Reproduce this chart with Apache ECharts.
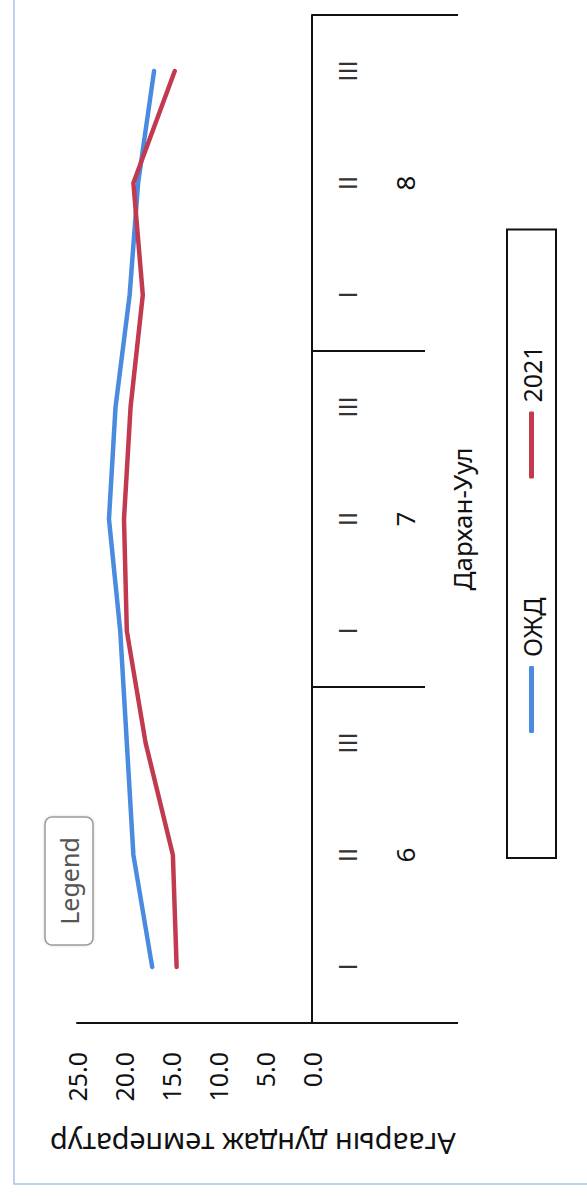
<!DOCTYPE html>
<html>
<head>
<meta charset="utf-8">
<script src="https://cdn.jsdelivr.net/npm/echarts@6/dist/echarts.min.js"></script>
<style>
  html, body { margin: 0; padding: 0; width: 587px; height: 1196px; overflow: hidden; background: #fff; }
  #chart {
    position: absolute; left: 0; top: 0;
    width: 1196px; height: 587px;
    transform-origin: 0 0;
    transform: translate(0, 1196px) rotate(-90deg);
  }
</style>
</head>
<body>
<div id="chart"></div>
<script>
// ---- data ----
const decades = ['I', 'II', 'III', 'I', 'II', 'III', 'I', 'II', 'III'];
const months = ['6', '7', '8'];
const station = ['Дархан-Уул'];
const seriesNames = ['ОЖД', '2021'];
const normalTemp = [17.0, 19.0, 19.7, 20.4, 21.6, 20.9, 19.4, 18.5, 16.8];
const temp2021 = [14.4, 14.8, 17.7, 19.7, 20.0, 19.3, 18.0, 19.0, 14.6];
const valueMin = 0, valueMax = 25, valueStep = 5;
const valueTitle = 'Агаарын дундаж температур';
const badgeText = 'Legend';

const FONT = 'Noto Sans';
const chart = echarts.init(document.getElementById('chart'), null, { renderer: 'svg' });

chart.setOption({
  backgroundColor: '#ffffff',
  animation: false,
  textStyle: { fontFamily: FONT },
  grid: { left: 173, right: 15, top: 77, bottom: 275, containLabel: false, outerBoundsMode: 'none' },
  legend: {
    data: seriesNames,
    left: 338, top: 507,
    orient: 'horizontal',
    padding: [12, 116, 12, 125],
    itemGap: 119,
    itemWidth: 67, itemHeight: 5,
    icon: 'roundRect',
    borderColor: '#111', borderWidth: 2, borderRadius: 0,
    textStyle: { fontFamily: FONT, fontSize: 25, color: '#111', padding: [0, 0, 0, 4] }
  },
  xAxis: [
    {
      type: 'category', data: decades, position: 'bottom', boundaryGap: true,
      axisLine: { show: true, onZero: false, lineStyle: { color: '#111', width: 2 } },
      axisTick: { show: false },
      axisLabel: { interval: 0, margin: 23, fontFamily: 'Liberation Sans', fontSize: 26, color: '#333' },
      splitLine: { show: false }
    },
    {
      type: 'category', data: months, position: 'bottom', boundaryGap: true,
      axisLine: { show: false, onZero: false },
      axisTick: { show: true, length: 113, lineStyle: { color: '#111', width: 2 } },
      axisLabel: { interval: 0, margin: 80, fontFamily: FONT, fontSize: 26, color: '#111' },
      splitLine: { show: false }
    },
    {
      type: 'category', data: station, position: 'bottom', boundaryGap: true,
      axisLine: { show: false, onZero: false },
      axisTick: { show: true, length: 146, lineStyle: { color: '#111', width: 2 } },
      axisLabel: { interval: 0, margin: 137, fontFamily: FONT, fontSize: 26, color: '#111' },
      splitLine: { show: false }
    }
  ],
  yAxis: {
    type: 'value', min: valueMin, max: valueMax, interval: valueStep,
    axisLine: { show: true, lineStyle: { color: '#111', width: 2 } },
    axisTick: { show: false },
    splitLine: { show: false },
    axisLabel: {
      margin: 29, fontFamily: FONT, fontSize: 25, color: '#111',
      formatter: v => v.toFixed(1)
    }
  },
  series: [
    {
      name: seriesNames[0], type: 'line', data: normalTemp,
      xAxisIndex: 0, yAxisIndex: 0, symbol: 'none', smooth: false,
      itemStyle: { color: '#4A8BE0' },
      lineStyle: { color: '#4A8BE0', width: 4.5, cap: 'round', join: 'round' }
    },
    {
      name: seriesNames[1], type: 'line', data: temp2021,
      xAxisIndex: 0, yAxisIndex: 0, symbol: 'none', smooth: false,
      itemStyle: { color: '#C23A50' },
      lineStyle: { color: '#C23A50', width: 4.5, cap: 'round', join: 'round' }
    }
  ],
  graphic: [
    {
      type: 'rect', silent: true,
      shape: { x: 12, y: 14, width: 1400, height: 800 },
      style: { fill: 'none', stroke: '#A9C3E8', lineWidth: 1.5 }
    },
    {
      type: 'rect', silent: true,
      shape: { x: 251, y: 45, width: 128, height: 48, r: 7 },
      style: { fill: '#fff', stroke: '#9a9a9a', lineWidth: 1.5, shadowBlur: 3, shadowColor: 'rgba(0,0,0,0.15)' }
    },
    {
      type: 'text', silent: true,
      x: 315, y: 69,
      style: { text: badgeText, font: '25px "Noto Sans"', fill: '#555', align: 'center', verticalAlign: 'middle' }
    },
    {
      type: 'text', silent: true,
      x: 52, y: 253, rotation: Math.PI / 2,
      style: { text: valueTitle, font: '29px "Noto Sans"', fill: '#111', align: 'center', verticalAlign: 'middle' }
    }
  ]
});
</script>
</body>
</html>
